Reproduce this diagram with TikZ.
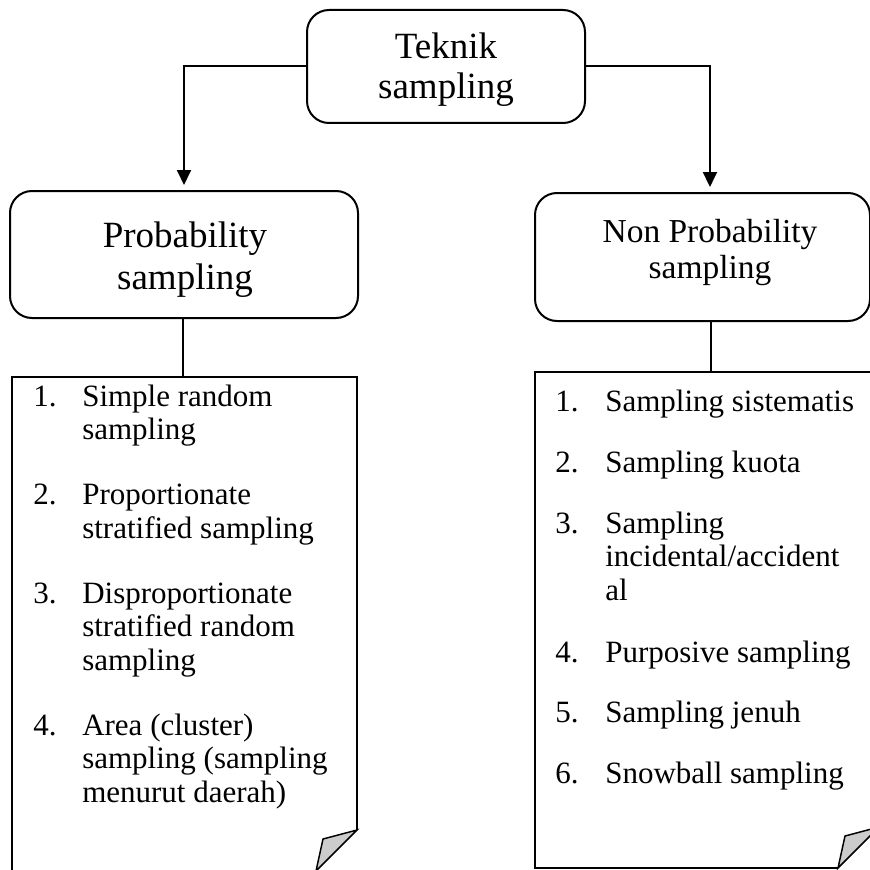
\documentclass[tikz,border=0pt]{standalone}
\usepackage{fontspec}
\setmainfont{Liberation Serif}
\usetikzlibrary{arrows.meta,calc}
\begin{document}
\begin{tikzpicture}[x=0.75pt,y=-0.75pt,
  hbox/.style={draw, rounded corners=16.5pt, line width=1.5pt, inner sep=0pt, outer sep=0pt},
  htext/.style={inner sep=0pt, align=center},
  conn/.style={line width=1.5pt, -{Triangle[length=11.25pt,width=10.5pt]}, shorten >=4.5pt},
  stem/.style={line width=0.8pt},
  listbox/.style={line width=1.1pt, line join=miter},
  fold/.style={fill=black!20, draw, line width=1.1pt, line join=miter},
  itemtext/.style={inner sep=0pt, anchor=base west, font=\fontsize{23.25}{25}\selectfont}
]
\useasboundingbox (0,0) rectangle (870,870);
\clip (0,0) rectangle (870,870);

% header boxes
\node[hbox, minimum width=208.5pt, minimum height=84.75pt] (top) at (446,66.5) {};
\node[hbox, minimum width=261pt, minimum height=95.25pt] (pbox) at (184,254.5) {};
\node[hbox, minimum width=251.25pt, minimum height=96pt] (nbox) at (702.5,257) {};

\node[htext, font=\fontsize{27.75}{30}\selectfont] (toptext) at (446,70) {Teknik\\sampling};
\node[htext, font=\fontsize{27.75}{31.5}\selectfont] (ptext) at (185,259.5) {Probability\\sampling};
\node[htext, font=\fontsize{25.1}{27}\selectfont] (ntext) at (710,252) {Non Probability\\sampling};

% arrows
\draw[conn] (top.west) -| (pbox.north);
\draw[conn] (top.east) -| ([xshift=5.6pt]nbox.north);

% list boxes
\coordinate (plNW) at (12,377);
\coordinate (plNE) at (357,377);
\coordinate (plSE) at (357,871);
\coordinate (plSW) at (12,871);
\coordinate (pltop) at (183,377);
\draw[listbox] ($(plSE)+(-41,0)$) -- (plSW) -- (plNW) -- (plNE) -- ($(plSE)+(0,-41)$);
\draw[fold] ($(plSE)+(0,-41)$) -- ($(plSE)+(-34,-32)$) -- ($(plSE)+(-41,0)$) -- cycle;

\coordinate (nlNW) at (535,372);
\coordinate (nlNE) at (879,372);
\coordinate (nlSE) at (879,868);
\coordinate (nlSW) at (535,868);
\coordinate (nltop) at (711,372);
\draw[listbox] ($(nlSE)+(-41,0)$) -- (nlSW) -- (nlNW) -- (nlNE) -- ($(nlSE)+(0,-41)$);
\draw[fold] ($(nlSE)+(0,-41)$) -- ($(nlSE)+(-34,-32)$) -- ($(nlSE)+(-41,0)$) -- cycle;

% stems
\draw[stem] (pbox.south -| pltop) -- (pltop);
\draw[stem] (nbox.south -| nltop) -- (nltop);

% left list
\foreach \y/\t [count=\i] in {406/{Simple random},439.5/{sampling},504.5/{Proportionate},538/{stratified sampling},603/{Disproportionate},636.5/{stratified random},670/{sampling},735/{Area (cluster)},768.5/{sampling (sampling},802/{menurut daerah)}}
  \node[itemtext] (pl\i) at (82,\y) {\t};
\foreach \y/\n [count=\i] in {406/1.,504.5/2.,603/3.,735/4.}
  \node[itemtext] (pn\i) at (33,\y) {\n};

% right list
\foreach \y/\t [count=\i] in {411/{Sampling sistematis},472/{Sampling kuota},533/{Sampling},566.5/{incidental/accident},600/{al},662/{Purposive sampling},722/{Sampling jenuh},783/{Snowball sampling}}
  \node[itemtext] (nl\i) at (605,\y) {\t};
\foreach \y/\n [count=\i] in {411/1.,472/2.,533/3.,662/4.,722/5.,783/6.}
  \node[itemtext] (nn\i) at (555,\y) {\n};
\end{tikzpicture}
\end{document}
